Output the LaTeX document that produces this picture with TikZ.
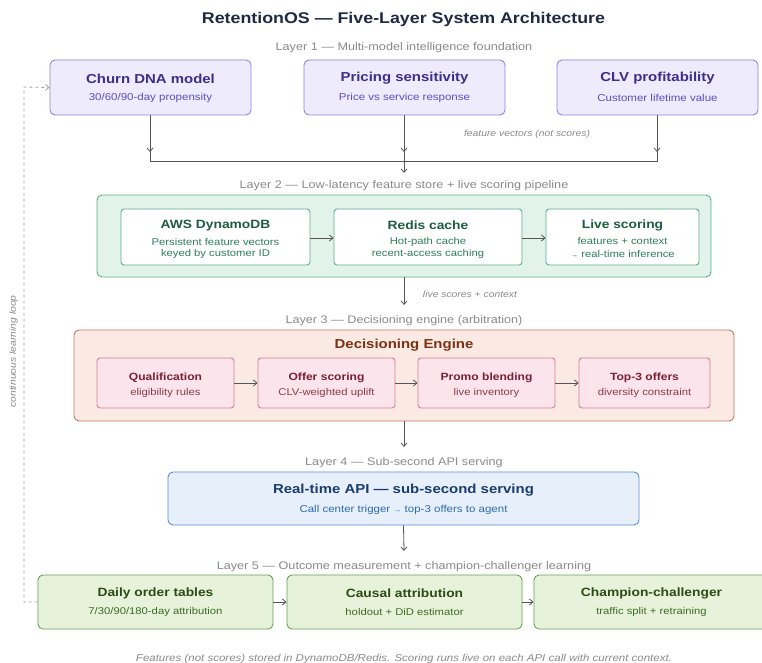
\documentclass[tikz,border=0pt]{standalone}
\usepackage{fontspec}
\setmainfont{Liberation Sans}[FakeStretch=1.15]
\usetikzlibrary{arrows.meta}
\definecolor{lonefill}{HTML}{EDEBFC}
\definecolor{lonedraw}{HTML}{8E84DE}
\definecolor{lonetitle}{HTML}{3C2F8C}
\definecolor{lonesub}{HTML}{5B4FC4}
\definecolor{ltwofill}{HTML}{E2F3EB}
\definecolor{ltwodraw}{HTML}{5FAE8C}
\definecolor{ltwotitle}{HTML}{1D5C41}
\definecolor{ltwosub}{HTML}{2F7D5C}
\definecolor{lthreefill}{HTML}{FBEAE4}
\definecolor{lthreedraw}{HTML}{C57660}
\definecolor{lthreehead}{HTML}{7A3212}
\definecolor{lthreeinfill}{HTML}{FBE4EB}
\definecolor{lthreeindraw}{HTML}{D47E95}
\definecolor{lthreetitle}{HTML}{7B1F38}
\definecolor{lthreesub}{HTML}{8B3A4E}
\definecolor{lfourfill}{HTML}{E6EFFA}
\definecolor{lfourdraw}{HTML}{5B8FD2}
\definecolor{lfourtitle}{HTML}{1B3C6C}
\definecolor{lfoursub}{HTML}{2E6BB2}
\definecolor{lfivefill}{HTML}{E7F2DB}
\definecolor{lfivedraw}{HTML}{6BA152}
\definecolor{lfivetitle}{HTML}{2B4C12}
\definecolor{lfivesub}{HTML}{3D6B22}
\definecolor{labgray}{HTML}{8A8A8A}
\definecolor{arrgray}{HTML}{555555}
\definecolor{titlenavy}{HTML}{1E2A44}
\tikzset{
  box/.style={rounded corners=5pt, line width=0.9pt, inner sep=0pt, align=center},
  onebox/.style={box, fill=lonefill, draw=lonedraw, minimum width=201pt, minimum height=55pt},
  twoouter/.style={box, fill=ltwofill, draw=ltwodraw, minimum width=614pt, minimum height=82pt},
  twobox/.style={box, rounded corners=3pt, fill=white, draw=ltwodraw, minimum height=56pt},
  threeouter/.style={box, fill=lthreefill, draw=lthreedraw, minimum width=660pt, minimum height=91pt},
  threebox/.style={box, rounded corners=3pt, fill=lthreeinfill, draw=lthreeindraw, minimum height=50pt},
  fourbox/.style={box, fill=lfourfill, draw=lfourdraw, minimum width=471pt, minimum height=53pt},
  fivebox/.style={box, fill=lfivefill, draw=lfivedraw, minimum width=235pt, minimum height=54pt},
  layerlab/.style={text=labgray, yshift=-1.5pt, font=\fontsize{11}{13}\selectfont},
  note/.style={text=labgray, yshift=-1.5pt, font=\itshape\fontsize{9}{11}\selectfont},
  txt/.style={inner sep=0pt, align=center, yshift=-1.5pt},
  arr/.style={draw=arrgray, line width=0.8pt, -{Straight Barb[length=3.5pt,width=6pt]}},
  ln/.style={draw=arrgray, line width=0.8pt},
}
\begin{document}
\begin{tikzpicture}[x=1pt,y=-1pt]
\useasboundingbox (0,0) rectangle (762,663);
\fill[white] (0,0) rectangle (762,663);
% title
\node[txt, text=titlenavy, font=\bfseries\fontsize{15.5}{18}\selectfont] (title) at (403.5,18) {RetentionOS — Five-Layer System Architecture};
% layer 1
\node[layerlab] (l1lab) at (404,46) {Layer 1 — Multi-model intelligence foundation};
\node[onebox] (churn) at (150.5,87.5) {};
\node[onebox] (pricing) at (404.5,87.5) {};
\node[onebox] (clv) at (657.5,87.5) {};
\foreach \n/\t/\s in {churn/Churn DNA model/30\slash 60\slash 90-day propensity, pricing/Pricing sensitivity/Price vs service response, clv/CLV profitability/Customer lifetime value}{
  \node[txt, text=lonetitle, font=\bfseries\fontsize{13}{15}\selectfont] (\n t) at ([yshift=10.5pt]\n.center) {\t};
  \node[txt, text=lonesub, font=\fontsize{10}{12}\selectfont] (\n s) at ([yshift=-8.5pt]\n.center) {\s};
}
\coordinate (m1) at (150,161);
\coordinate (m2) at (404,161);
\coordinate (m3) at (657,161);
\draw[ln] (churn.south -| m1) -- (m1) -- (m3) -- (clv.south -| m3);
\draw[ln] (pricing.south -| m2) -- (m2);
\foreach \n/\m in {churn/m1, pricing/m2, clv/m3}{
  \draw[arr] (\n.south -| \m) -- ([yshift=9pt]\m);
}
\node[note] (fv) at (527,133) {feature vectors (not scores)};
% layer 2
\node[layerlab] (l2lab) at (404,184) {Layer 2 — Low-latency feature store + live scoring pipeline};
\node[twoouter] (l2) at (404,236) {};
\draw[arr] (m2) -- ([yshift=-12pt]m2);
\node[twobox, minimum width=189pt] (dyn) at (215.5,237) {};
\node[twobox, minimum width=188pt] (redis) at (428,237) {};
\node[twobox, minimum width=153pt] (live) at (622.5,237) {};
\foreach \n/\t/\a/\b in {dyn/AWS DynamoDB/Persistent feature vectors/keyed by customer ID, redis/Redis cache/Hot-path cache/recent-access caching, live/Live scoring/features + context/{\fontsize{7}{9}\selectfont →} real-time inference}{
  \node[txt, text=ltwotitle, font=\bfseries\fontsize{12}{14}\selectfont] (\n t) at ([yshift=13pt]\n.center) {\t};
  \node[txt, text=ltwosub, font=\fontsize{9.8}{12}\selectfont] (\n a) at ([yshift=-3pt]\n.center) {\a};
  \node[txt, text=ltwosub, font=\fontsize{9.8}{12}\selectfont] (\n b) at ([yshift=-15pt]\n.center) {\b};
}
\draw[arr] (dyn.east |- 0,238) -- (redis.west |- 0,238);
\draw[arr] (redis.east |- 0,238) -- (live.west |- 0,238);
% layer 3
\node[layerlab] (l3lab) at (404,319) {Layer 3 — Decisioning engine (arbitration)};
\node[threeouter] (l3) at (404,375.5) {};
\draw[arr] (l2.south) -- (404,305);
\node[note] (ls) at (470,293) {live scores + context};
\node[txt, text=lthreehead, font=\bfseries\fontsize{13}{15}\selectfont] (deng) at (404,344) {Decisioning Engine};
\node[threebox, minimum width=137pt] (qual) at (165.5,383) {};
\node[threebox, minimum width=137pt] (offer) at (326.5,383) {};
\node[threebox, minimum width=137pt] (promo) at (486.5,383) {};
\node[threebox, minimum width=131pt] (top) at (644.5,383) {};
\foreach \n/\t/\s in {qual/Qualification/eligibility rules, offer/Offer scoring/CLV-weighted uplift, promo/Promo blending/live inventory, top/Top-3 offers/diversity constraint}{
  \node[txt, text=lthreetitle, font=\bfseries\fontsize{10.5}{12}\selectfont] (\n t) at ([yshift=7pt]\n.center) {\t};
  \node[txt, text=lthreesub, font=\fontsize{9.8}{12}\selectfont] (\n s) at ([yshift=-8pt]\n.center) {\s};
}
\draw[arr] (qual.east) -- (offer.west);
\draw[arr] (offer.east) -- (promo.west);
\draw[arr] (promo.east) -- (top.west);
% layer 4
\node[layerlab] (l4lab) at (404,461) {Layer 4 — Sub-second API serving};
\node[fourbox] (api) at (403.5,498.5) {};
\draw[arr] (l3.south) -- (404,447);
\node[txt, text=lfourtitle, font=\bfseries\fontsize{13}{15}\selectfont] (apit) at (403.5,489) {Real-time API — sub-second serving};
\node[txt, text=lfoursub, font=\fontsize{10}{12}\selectfont] (apis) at (403.5,508) {Call center trigger {\fontsize{7}{9}\selectfont →} top-3 offers to agent};
% layer 5
\draw[arr] (api.south) -- (404,551);
\node[layerlab] (l5lab) at (404,565) {Layer 5 — Outcome measurement + champion-challenger learning};
\node[fivebox] (daily) at (155.5,602) {};
\node[fivebox] (causal) at (404.5,602) {};
\node[fivebox] (champ) at (651.5,602) {};
\foreach \n/\t/\s in {daily/Daily order tables/7\slash 30\slash 90\slash 180-day attribution, causal/Causal attribution/holdout + DiD estimator, champ/Champion-challenger/traffic split + retraining}{
  \node[txt, text=lfivetitle, font=\bfseries\fontsize{12}{14}\selectfont] (\n t) at ([yshift=10pt]\n.center) {\t};
  \node[txt, text=lfivesub, font=\fontsize{9.8}{12}\selectfont] (\n s) at ([yshift=-8pt]\n.center) {\s};
}
\draw[arr] (daily.east) -- (causal.west);
\draw[arr] (causal.east) -- (champ.west);
% loop
\coordinate (lpb) at (24,602);
\coordinate (lpt) at (24,87);
\draw[arr, dashed, draw=labgray!80] (daily.west) -- (lpb) -- (lpt) -- (churn.west);
\node[note, rotate=90, yshift=1.5pt] (loop) at (15,350) {continuous learning loop};
% footer
\node[note, font=\itshape\fontsize{10}{12}\selectfont] (foot) at (404,657) {Features (not scores) stored in DynamoDB/Redis. Scoring runs live on each API call with current context.};
\end{tikzpicture}
\end{document}
